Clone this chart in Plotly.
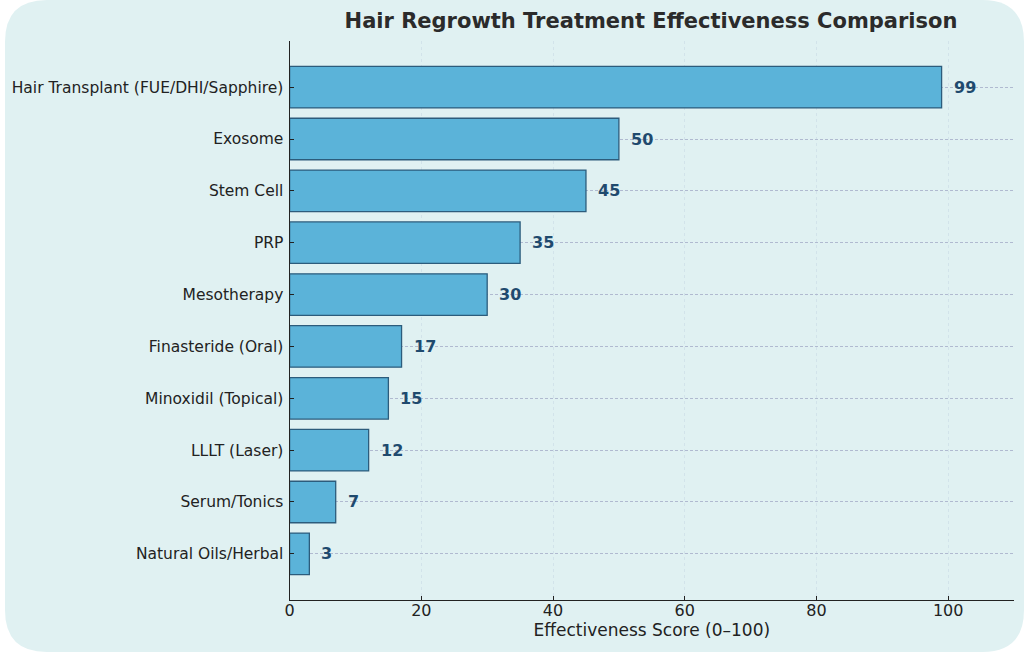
import plotly.graph_objects as go

treatments = ["Hair Transplant (FUE/DHI/Sapphire)", "Exosome", "Stem Cell", "PRP",
              "Mesotherapy", "Finasteride (Oral)", "Minoxidil (Topical)", "LLLT (Laser)",
              "Serum/Tonics", "Natural Oils/Herbal"]
scores = [99, 50, 45, 35, 30, 17, 15, 12, 7, 3]
x_ticks = [0, 20, 40, 60, 80, 100]

W, H = 1024, 652
bg = "#e0f1f2"
font = "DejaVu Sans"

fig = go.Figure()
fig.add_trace(go.Bar(
    x=scores, y=treatments, orientation="h", width=0.8,
    marker=dict(color="#5bb3d9", line=dict(color="#2c5c7c", width=1.3)),
    hoverinfo="x+y",
))

for t, s in zip(treatments, scores):
    fig.add_annotation(x=s, y=t, text=f"<b>{s}</b>", showarrow=False, xanchor="left",
                       xshift=10, font=dict(family=font, size=16, color="#1f4a6e"))

# rounded card background, in figure coordinates (margins are zero)
rx, ry = 42 / W, 42 / H
card = (f"M {rx},0 L {1-rx},0 Q 1,0 1,{ry} L 1,{1-ry} Q 1,1 {1-rx},1 "
        f"L {rx},1 Q 0,1 0,{1-ry} L 0,{ry} Q 0,0 {rx},0 Z")
fig.add_shape(type="path", path=card, xref="paper", yref="paper",
              fillcolor=bg, line=dict(width=0), layer="below")

fig.update_layout(
    width=W, height=H,
    margin=dict(l=0, r=0, t=0, b=0),
    paper_bgcolor="white", plot_bgcolor="rgba(0,0,0,0)",
    font=dict(family=font, size=16, color="#222222"),
    showlegend=False,
    title=dict(text="<b>Hair Regrowth Treatment Effectiveness Comparison</b>",
               x=651 / W, xanchor="center", y=1 - 21 / H, yanchor="middle",
               font=dict(family=font, size=21, color="#2b2b2b")),
    xaxis=dict(
        domain=[286 / W, 1014 / W], range=[0, 110],
        tickvals=x_ticks, ticks="inside", ticklen=4, tickcolor="#222",
        showline=True, linecolor="#222", linewidth=1.3,
        showgrid=True, gridcolor="rgba(200,218,228,0.6)", griddash="3px,3px", gridwidth=1,
        zeroline=False, ticklabelstandoff=-4,
        title=dict(text="Effectiveness Score (0–100)", font=dict(size=17), standoff=4),
        tickfont=dict(size=16),
    ),
    yaxis=dict(
        domain=[52 / H, 1 - 41 / H], range=[9.89, -0.89],
        ticks="inside", ticklen=4, tickcolor="#222",
        showline=True, linecolor="#222", linewidth=1.3,
        showgrid=True, gridcolor="#b0bad0", griddash="3px,2px", gridwidth=1,
        zeroline=False, tickfont=dict(size=15.5), ticklabelstandoff=2,
    ),
)

fig.write_html("out.html", config={"displayModeBar": False},
               post_script="document.body.style.margin='0';")
